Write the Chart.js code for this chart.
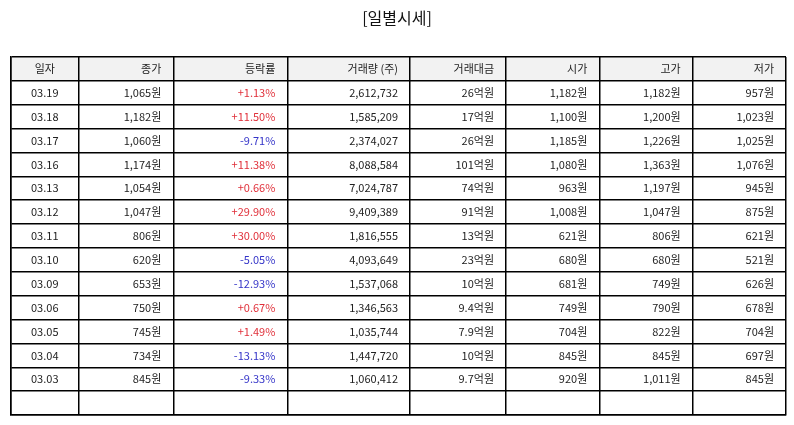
<!DOCTYPE html>
<html>
<head>
<meta charset="utf-8">
<script src="https://cdn.jsdelivr.net/npm/chart.js@4"></script>
<style>
  html, body { margin: 0; padding: 0; background: #fff; }
  #wrap { width: 794px; height: 425px; }
</style>
</head>
<body>
<div id="wrap"><canvas id="myChart" width="794" height="425"></canvas></div>
<script>
var headers = ['일자', '종가', '등락률', '거래량 (주)', '거래대금', '시가', '고가', '저가'];
var dates = ['03.19', '03.18', '03.17', '03.16', '03.13', '03.12', '03.11', '03.10', '03.09', '03.06', '03.05', '03.04', '03.03'];
var closePrice = [1065, 1182, 1060, 1174, 1054, 1047, 806, 620, 653, 750, 745, 734, 845];
var changeRate = [1.13, 11.50, -9.71, 11.38, 0.66, 29.90, 30.00, -5.05, -12.93, 0.67, 1.49, -13.13, -9.33];
var volume = [2612732, 1585209, 2374027, 8088584, 7024787, 9409389, 1816555, 4093649, 1537068, 1346563, 1035744, 1447720, 1060412];
var amount = [26, 17, 26, 101, 74, 91, 13, 23, 10, 9.4, 7.9, 10, 9.7];
var openPrice = [1182, 1100, 1185, 1080, 963, 1008, 621, 680, 681, 749, 704, 845, 920];
var highPrice = [1182, 1200, 1226, 1363, 1197, 1047, 806, 680, 749, 790, 822, 845, 1011];
var lowPrice = [957, 1023, 1025, 1076, 945, 875, 621, 521, 626, 678, 704, 697, 845];

// column widths (px-ish units on the x scale)
var colWidths = [68.5, 94.3, 114, 122.7, 96, 93.3, 93.4, 93.3];
var bounds = [0];
colWidths.forEach(function (w, i) { bounds.push(bounds[i] + w); });
var totalRows = dates.length + 2; // header + data + one empty row

function won(v) { return v.toLocaleString('en-US') + '원'; }
function pct(v) { return (v > 0 ? '+' : '') + v.toFixed(2) + '%'; }

var font = '"Noto Sans CJK KR", "Noto Sans", sans-serif';

var tablePlugin = {
    id: 'tableText',
    beforeDraw: function (chart) {
        var c = chart.ctx, x = chart.scales.x, y = chart.scales.y;
        // header background, under the grid
        c.save();
        c.fillStyle = '#f2f2f2';
        c.fillRect(x.getPixelForValue(0), y.getPixelForValue(0),
            x.getPixelForValue(bounds[bounds.length - 1]) - x.getPixelForValue(0),
            y.getPixelForValue(1) - y.getPixelForValue(0));
        c.restore();
    },
    afterDraw: function (chart) {
        var c = chart.ctx, x = chart.scales.x, y = chart.scales.y;
        c.save();
        c.font = '11px ' + font;
        c.textBaseline = 'middle';
        function cell(col, row, text, color) {
            var cy = y.getPixelForValue(row + 0.5);
            c.fillStyle = color || '#222';
            if (col === 0) {
                c.textAlign = 'center';
                c.fillText(text, x.getPixelForValue((bounds[0] + bounds[1]) / 2), cy);
            } else {
                c.textAlign = 'right';
                c.fillText(text, x.getPixelForValue(bounds[col + 1]) - 12, cy);
            }
        }
        headers.forEach(function (h, i) { cell(i, 0, h); });
        dates.forEach(function (d, i) {
            var r = i + 1;
            cell(0, r, d);
            cell(1, r, won(closePrice[i]));
            cell(2, r, pct(changeRate[i]), changeRate[i] > 0 ? '#e0303a' : '#3434c8');
            cell(3, r, volume[i].toLocaleString('en-US'));
            cell(4, r, amount[i] + '억원');
            cell(5, r, won(openPrice[i]));
            cell(6, r, won(highPrice[i]));
            cell(7, r, won(lowPrice[i]));
        });
        // title
        c.font = '16px ' + font;
        c.textAlign = 'center';
        c.fillStyle = '#111';
        c.fillText('[일별시세]', chart.width / 2, 18);
        c.restore();
    }
};

var ctx = document.getElementById('myChart');
var chart = new Chart(ctx, {
    type: 'scatter',
    data: {
        datasets: [{
            data: dates.map(function (d, i) { return { x: bounds[0], y: i + 1 }; }),
            pointRadius: 0
        }]
    },
    options: {
        responsive: false,
        animation: false,
        layout: { padding: { left: 10.5, top: 57, right: 8, bottom: 10 } },
        plugins: { legend: { display: false }, tooltip: { enabled: false } },
        scales: {
            x: {
                type: 'linear',
                min: 0,
                max: bounds[bounds.length - 1],
                afterBuildTicks: function (axis) {
                    axis.ticks = bounds.map(function (b) { return { value: b }; });
                },
                ticks: { display: false },
                grid: { color: '#000', lineWidth: 1.5, drawTicks: false },
                border: { display: true, color: '#000', width: 1.5 }
            },
            y: {
                type: 'linear',
                reverse: true,
                min: 0,
                max: totalRows,
                afterBuildTicks: function (axis) {
                    var t = [];
                    for (var i = 0; i <= totalRows; i++) t.push({ value: i });
                    axis.ticks = t;
                },
                ticks: { display: false },
                grid: { color: '#000', lineWidth: 1.5, drawTicks: false },
                border: { display: true, color: '#000', width: 1.5 }
            }
        }
    },
    plugins: [tablePlugin]
});
</script>
</body>
</html>
